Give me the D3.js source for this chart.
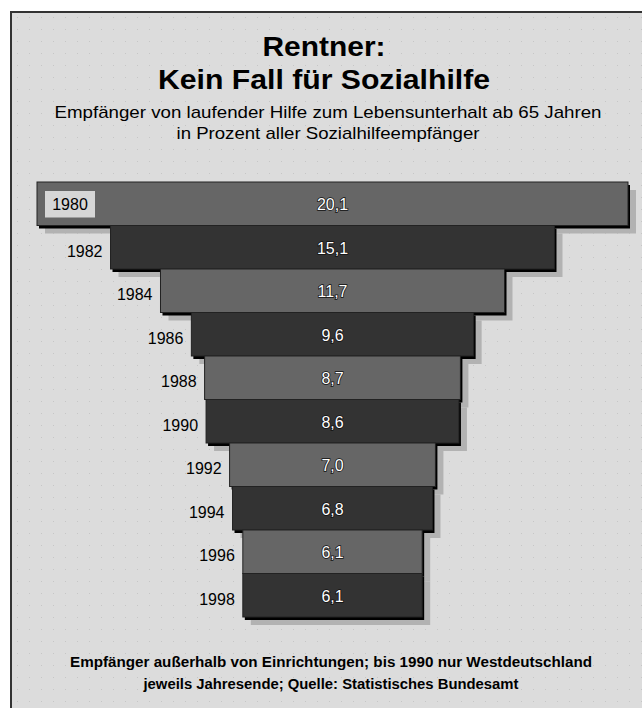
<!DOCTYPE html>
<html><head><meta charset="utf-8">
<script src="https://cdn.jsdelivr.net/npm/d3@7"></script>
<style>body{margin:0;background:#fff}svg{display:block}</style>
</head><body><svg id="c" width="642" height="708"></svg>
<script>
const years = ["1980","1982","1984","1986","1988","1990","1992","1994","1996","1998"];
const values = [20.1,15.1,11.7,9.6,8.7,8.6,7.0,6.8,6.1,6.1];
const valueLabels = ["20,1","15,1","11,7","9,6","8,7","8,6","7,0","6,8","6,1","6,1"];
const titleLines = ["Rentner:","Kein Fall für Sozialhilfe"];
const subtitleLines = ["Empfänger von laufender Hilfe zum Lebensunterhalt ab 65 Jahren","in Prozent aller Sozialhilfeempfänger"];
const noteLines = ["Empfänger außerhalb von Einrichtungen; bis 1990 nur Westdeutschland","jeweils Jahresende; Quelle: Statistisches Bundesamt"];

const svg = d3.select("#c");
const font = "'Liberation Sans', Arial, sans-serif";

// frame
const defs = svg.append("defs");
const pat = defs.append("pattern").attr("id","dots").attr("width",12).attr("height",12).attr("patternUnits","userSpaceOnUse");
pat.append("rect").attr("width",12).attr("height",12).attr("fill","#dcdcdc");
pat.append("rect").attr("x",5).attr("y",5).attr("width",1).attr("height",1).attr("fill","#c6c6c6");
svg.append("rect").attr("x",11).attr("y",12).attr("width",640).attr("height",700).attr("fill","url(#dots)")
  .attr("stroke","#333").attr("stroke-width",2);

// titles
const cx = 324;
svg.selectAll("text.title").data(titleLines).join("text").attr("class","title")
  .attr("x",cx).attr("y",(d,i)=>56+i*33).attr("text-anchor","middle")
  .attr("font-family",font).attr("font-weight","bold").attr("font-size",28).attr("fill","#000")
  .attr("textLength",(d,i)=>[123,332][i]).attr("lengthAdjust","spacingAndGlyphs").text(d=>d);
svg.selectAll("text.sub").data(subtitleLines).join("text").attr("class","sub")
  .attr("x",cx+4).attr("y",(d,i)=>118+i*21).attr("text-anchor","middle")
  .attr("font-family",font).attr("font-size",17).attr("fill","#000")
  .attr("textLength",(d,i)=>[547,303][i]).attr("lengthAdjust","spacingAndGlyphs").text(d=>d);
svg.selectAll("text.note").data(noteLines).join("text").attr("class","note")
  .attr("x",cx+7).attr("y",(d,i)=>667+i*22).attr("text-anchor","middle")
  .attr("font-family",font).attr("font-weight","bold").attr("font-size",14).attr("fill","#000")
  .attr("textLength",(d,i)=>[522,375][i]).attr("lengthAdjust","spacingAndGlyphs").text(d=>d);

// scales
const y = d3.scaleBand().domain(years).range([182,617]).padding(0);
const w = d3.scaleLinear().domain([0,20.1]).range([0,591]);
const barCx = 332.5;
const data = years.map((yr,i)=>({yr, v:values[i], lab:valueLabels[i], i}));
const bx = d => barCx - w(d.v)/2;

// gray drop shadows
svg.append("g").selectAll("rect").data(data).join("rect")
  .attr("x",d=>bx(d)+8).attr("y",d=>y(d.yr)+8).attr("width",d=>w(d.v)).attr("height",y.bandwidth())
  .attr("fill","#b2b2b2");

// bars with black edge
const g = svg.append("g");
data.forEach(d=>{
  g.append("rect").attr("x",bx(d)+2).attr("y",y(d.yr)+3).attr("width",w(d.v)).attr("height",y.bandwidth())
    .attr("fill","#000");
  g.append("rect").attr("x",bx(d)).attr("y",y(d.yr)).attr("width",w(d.v)).attr("height",y.bandwidth())
    .attr("fill", d.i%2===0 ? "#666666" : "#333333").attr("stroke","#222").attr("stroke-width",1);
});

// value labels
svg.append("g").selectAll("text").data(data).join("text")
  .attr("x",barCx).attr("y",d=>y(d.yr)+y.bandwidth()/2+1).attr("dy","0.35em").attr("text-anchor","middle")
  .attr("font-family",font).attr("font-size",16).attr("fill","#fff")
  .attr("stroke","#111").attr("stroke-width",1.5).attr("paint-order","stroke").text(d=>d.lab);

// year labels
const first = data[0];
svg.append("rect").attr("x",bx(first)+8).attr("y",y(first.yr)+9).attr("width",50).attr("height",y.bandwidth()-17)
  .attr("fill","#d6d6d6");
svg.append("text").attr("x",bx(first)+33).attr("y",y(first.yr)+y.bandwidth()/2+1).attr("dy","0.35em")
  .attr("text-anchor","middle").attr("font-family",font).attr("font-size",16).attr("fill","#000").text(first.yr);
svg.append("g").selectAll("text").data(data.slice(1)).join("text")
  .attr("x",d=>bx(d)-8).attr("y",d=>y(d.yr)+y.bandwidth()/2+4).attr("dy","0.35em").attr("text-anchor","end")
  .attr("font-family",font).attr("font-size",16).attr("fill","#000").text(d=>d.yr);
</script></body></html>
